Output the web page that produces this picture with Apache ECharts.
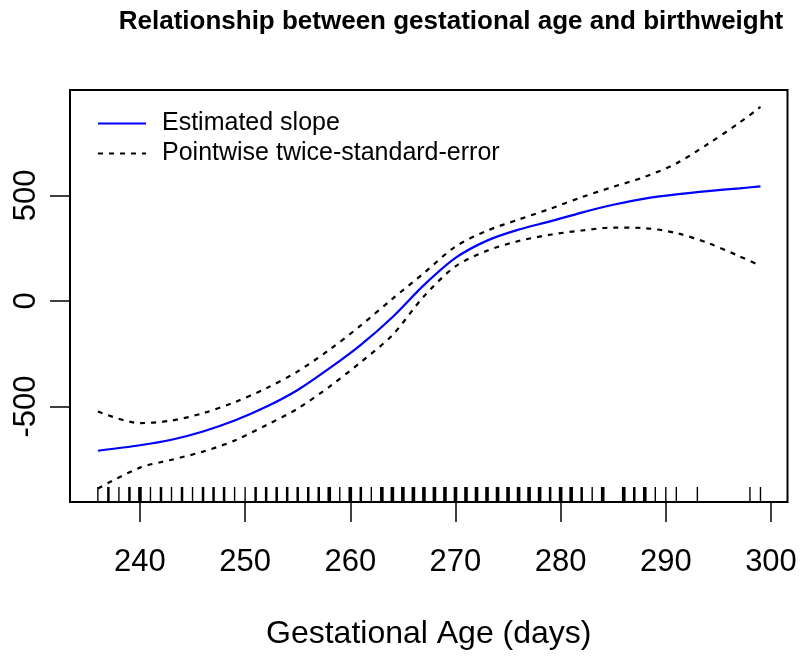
<!DOCTYPE html>
<html>
<head>
<meta charset="utf-8">
<script src="https://cdn.jsdelivr.net/npm/echarts@6/dist/echarts.min.js"></script>
<style>
  html, body { margin: 0; padding: 0; background: #fff; }
  #chart { width: 800px; height: 657px; }
</style>
</head>
<body>
<div id="chart"></div>
<script>
// ---- data ----
var titleText = 'Relationship between gestational age and birthweight';
var xAxisTitle = 'Gestational Age (days)';
var seriesNames = ['Estimated slope', 'Pointwise twice-standard-error'];

var gaDays    = [236, 240, 243, 246, 249, 252, 255, 258, 261, 264, 267, 270, 273, 276, 279, 282, 285, 288, 291, 294, 297, 299];
var slopeVals = [-710, -684, -658, -619, -567, -502, -422, -320, -208, -77, 75, 204, 286, 338, 377, 419, 456, 485, 505, 521, 534, 543];
var upperVals = [-524, -579, -567, -532, -480, -414, -334, -232, -116, 10, 132, 258, 333, 386, 437, 492, 541, 588, 652, 744, 845, 920];
var lowerVals = [-889, -790, -753, -714, -662, -589, -510, -407, -290, -162, 22, 164, 238, 284, 314, 334, 348, 345, 322, 275, 212, 167];

// rug: observed gestational ages and how many observations sit at each
var rugDays   = [236,237,238,239,240,241,242,243,244,245,246,247,248,249,250,251,252,253,254,255,256,257,258,259,260,261,262,263,264,265,266,267,268,269,270,271,272,273,274,275,276,277,278,279,280,281,282,283,284,286,287,288,289,290,291,293,298,299];
var rugCounts = [1,2,1,2,3,1,2,1,2,1,2,2,2,1,1,2,2,2,2,2,2,2,3,1,3,2,1,3,3,3,3,3,3,3,3,3,3,3,3,3,3,3,3,2,3,3,2,1,3,3,2,3,1,1,1,1,1,1];

var xTicks = [240, 250, 260, 270, 280, 290, 300];
var yTicks = [-500, 0, 500];

// ---- build ----
function pairs(xs, ys) { return xs.map(function (x, i) { return [x, ys[i]]; }); }
var X_MIN = 233.35, X_MAX = 301.57, Y_MIN = -953, Y_MAX = 1000;

var chart = echarts.init(document.getElementById('chart'), null, { renderer: 'canvas' });
var dashStyle = { color: '#000', width: 2.2, type: [5, 6] };

chart.setOption({
  animation: false,
  backgroundColor: '#fff',
  textStyle: { fontFamily: 'Liberation Sans, Arial, sans-serif', color: '#000' },
  title: {
    text: titleText,
    left: 446, top: 4, textAlign: 'center',
    textStyle: { fontSize: 26, fontWeight: 'bold', color: '#000', fontFamily: 'Liberation Sans, Arial, sans-serif' }
  },
  legend: {
    orient: 'vertical', left: 92, top: 106,
    itemWidth: 48, itemHeight: 14, itemGap: 5,
    data: seriesNames,
    itemStyle: { opacity: 0 },
    textStyle: { fontSize: 25, lineHeight: 25, color: '#000', padding: [0, 0, 0, 11] }
  },
  grid: {
    left: 70, right: 12.5, top: 90, bottom: 155,
    show: true, borderColor: '#000', borderWidth: 2, backgroundColor: 'transparent'
  },
  xAxis: {
    type: 'value', min: X_MIN, max: X_MAX,
    name: xAxisTitle, nameLocation: 'middle', nameGap: 116,
    nameTextStyle: { fontSize: 32, color: '#000' },
    axisLine: { show: false, onZero: false },
    splitLine: { show: false },
    axisTick: { show: true, length: 20, customValues: xTicks, lineStyle: { color: '#000', width: 1.5 } },
    axisLabel: { customValues: xTicks, fontSize: 31, color: '#000', margin: 45 }
  },
  yAxis: {
    type: 'value', min: Y_MIN, max: Y_MAX,
    axisLine: { show: false, onZero: false },
    splitLine: { show: false },
    axisTick: { show: true, length: 20, customValues: yTicks, lineStyle: { color: '#000', width: 1.5 } },
    axisLabel: { customValues: yTicks, fontSize: 31, color: '#000', rotate: 90, margin: 28 }
  },
  series: [
    {
      name: seriesNames[0], type: 'line', data: pairs(gaDays, slopeVals),
      symbol: 'none', smooth: 0.3,
      lineStyle: { color: '#0000ff', width: 2.2 }, itemStyle: { color: '#0000ff' }, z: 5
    },
    {
      name: seriesNames[1], type: 'line', data: pairs(gaDays, upperVals),
      symbol: 'none', smooth: 0.3,
      lineStyle: dashStyle, itemStyle: { color: '#000' }
    },
    {
      name: seriesNames[1], type: 'line', data: pairs(gaDays, lowerVals),
      symbol: 'none', smooth: 0.3,
      lineStyle: dashStyle, itemStyle: { color: '#000' }
    },
    {
      name: 'rug', type: 'custom', data: pairs(rugDays, rugCounts), silent: true,
      renderItem: function (params, api) {
        var p = api.coord([api.value(0), Y_MIN]);
        var n = api.value(1);
        var w = n >= 3 ? 3.6 : (n === 2 ? 2.5 : 1.4);
        return {
          type: 'line',
          shape: { x1: p[0], y1: p[1], x2: p[0], y2: p[1] - 15 },
          style: { stroke: '#000', lineWidth: w }
        };
      }
    }
  ]
});
</script>
</body>
</html>
